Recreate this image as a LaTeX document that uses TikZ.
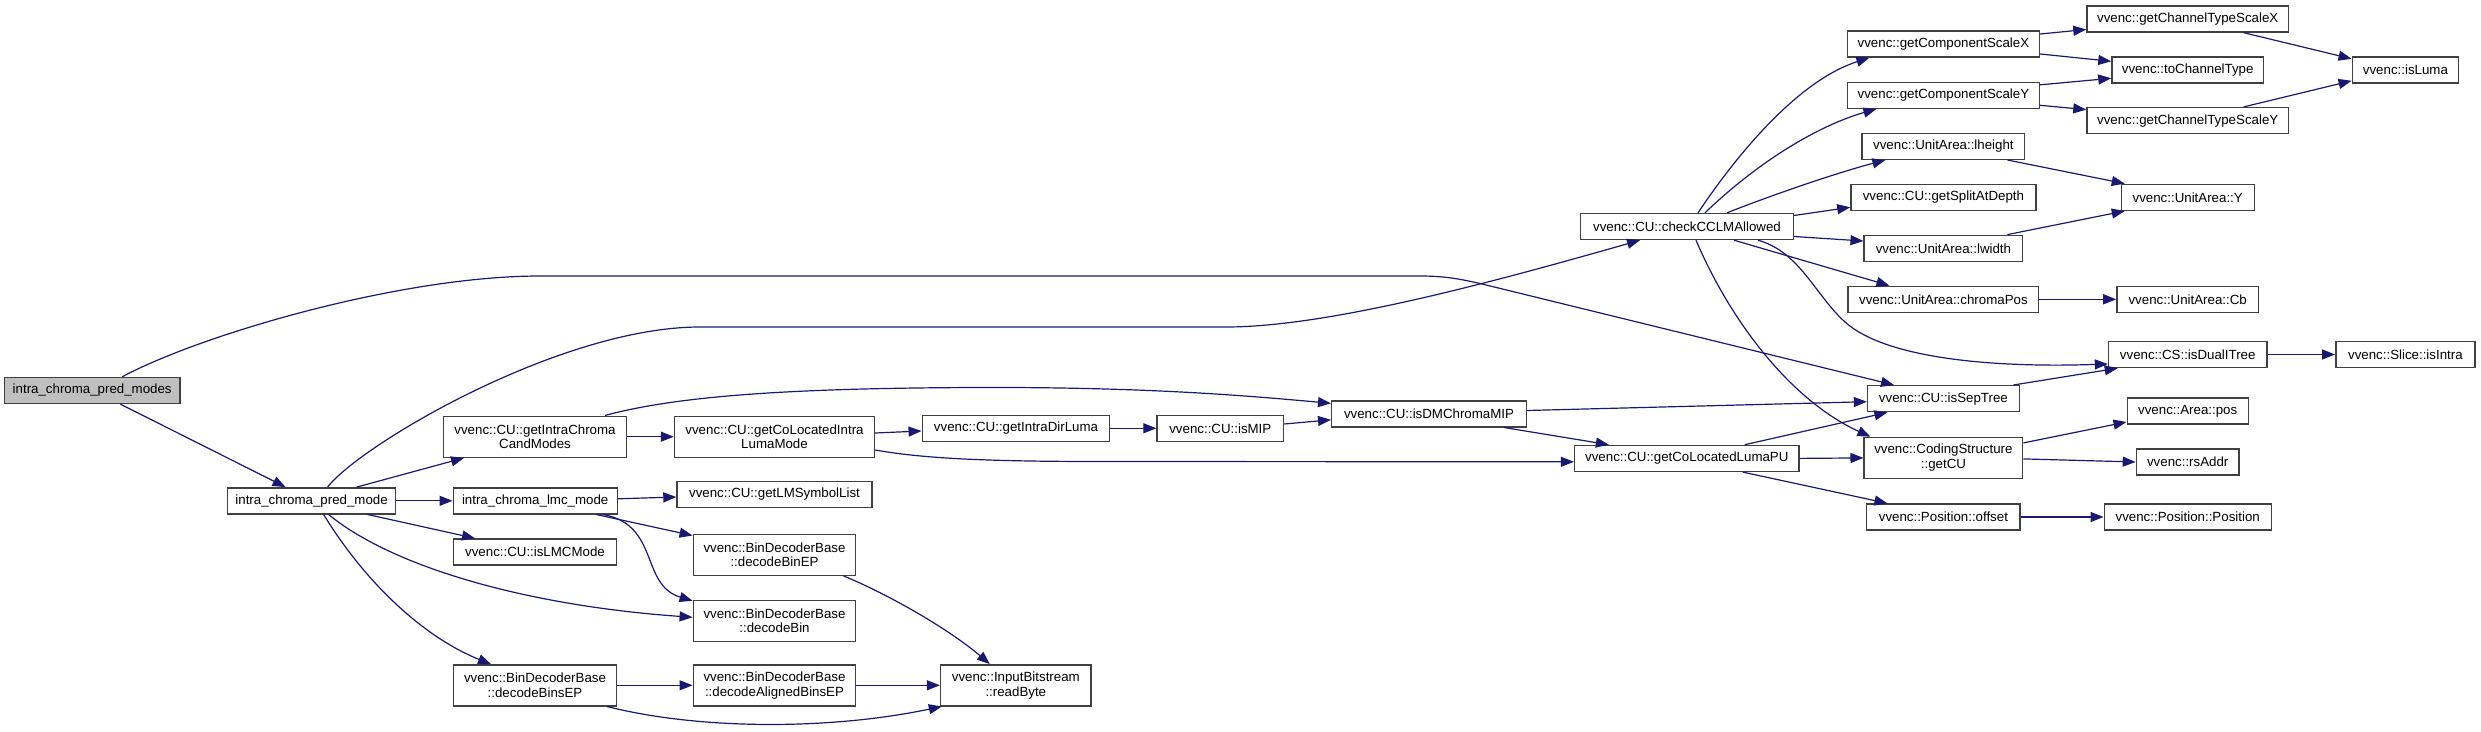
\documentclass[tikz,border=0pt]{standalone}
\usepackage{fontspec}
\setmainfont{Liberation Sans}
\usetikzlibrary{arrows.meta}
\definecolor{edgec}{HTML}{191970}
\definecolor{borderc}{HTML}{404040}
\definecolor{rootfill}{HTML}{BFBFBF}
\begin{document}
\begin{tikzpicture}[x=1pt,y=-1pt,
  fn/.style={draw=borderc, line width=1.4pt, fill=white, inner sep=0pt, align=center,
    font=\fontsize{13.3}{14.8}\selectfont, minimum height=26pt},
  fn2/.style={fn, minimum height=41pt},
  root/.style={fn, fill=rootfill},
  edge/.style={draw=edgec, line width=1.2pt, -{Triangle[length=13pt,width=10pt]}}]
\useasboundingbox (0,0) rectangle (2481,731);

\node[root, minimum width=175.5pt] (n0) at (92.2,390.5) {intra\_chroma\_pred\_modes};
\node[fn, minimum width=167.8pt] (n1) at (311.6,500.8) {intra\_chroma\_pred\_mode};
\node[fn2, minimum width=183pt] (n2) at (535,436.7) {vvenc::CU::getIntraChroma\\CandModes};
\node[fn, minimum width=164pt] (n3) at (535.2,500.8) {intra\_chroma\_lmc\_mode};
\node[fn, minimum width=163pt] (n4) at (535,552) {vvenc::CU::isLMCMode};
\node[fn2, minimum width=163pt] (n5) at (535,685.3) {vvenc::BinDecoderBase\\::decodeBinsEP};
\node[fn2, minimum width=200pt] (n6) at (774.5,436.7) {vvenc::CU::getCoLocatedIntra\\LumaMode};
\node[fn, minimum width=195pt] (n7) at (774.5,494.5) {vvenc::CU::getLMSymbolList};
\node[fn2, minimum width=162.5pt] (n8) at (774.5,554.7) {vvenc::BinDecoderBase\\::decodeBinEP};
\node[fn2, minimum width=162.5pt] (n9) at (774.5,620.8) {vvenc::BinDecoderBase\\::decodeBin};
\node[fn2, minimum width=162.5pt] (n10) at (774.5,685.3) {vvenc::BinDecoderBase\\::decodeAlignedBinsEP};
\node[fn, minimum width=187.5pt] (n11) at (1016,428.3) {vvenc::CU::getIntraDirLuma};
\node[fn2, minimum width=150.5pt] (n12) at (1015.8,685.3) {vvenc::InputBitstream\\::readByte};
\node[fn, minimum width=126.5pt] (n13) at (1220.3,428.3) {vvenc::CU::isMIP};
\node[fn, minimum width=194.6pt] (n14) at (1429,413.8) {vvenc::CU::isDMChromaMIP};
\node[fn, minimum width=212.5pt] (n15) at (1687,226.5) {vvenc::CU::checkCCLMAllowed};
\node[fn, minimum width=224.4pt] (n16) at (1686.8,458.4) {vvenc::CU::getCoLocatedLumaPU};
\node[fn, minimum width=192pt] (n17) at (1943.4,44) {vvenc::getComponentScaleX};
\node[fn, minimum width=192pt] (n18) at (1943.4,95.3) {vvenc::getComponentScaleY};
\node[fn, minimum width=162.6pt] (n19) at (1943.4,146.3) {vvenc::UnitArea::lheight};
\node[fn, minimum width=185pt] (n20) at (1943.4,197.3) {vvenc::CU::getSplitAtDepth};
\node[fn, minimum width=158.5pt] (n21) at (1943.4,248.3) {vvenc::UnitArea::lwidth};
\node[fn, minimum width=190.7pt] (n22) at (1943.4,299.3) {vvenc::UnitArea::chromaPos};
\node[fn, minimum width=151.8pt] (n23) at (1943.4,398.7) {vvenc::CU::isSepTree};
\node[fn2, minimum width=158.5pt] (n24) at (1943.4,457.9) {vvenc::CodingStructure\\::getCU};
\node[fn, minimum width=153.4pt] (n25) at (1943.4,517) {vvenc::Position::offset};
\node[fn, minimum width=201.5pt] (n26) at (2187.7,19) {vvenc::getChannelTypeScaleX};
\node[fn, minimum width=151.5pt] (n27) at (2187.7,69.8) {vvenc::toChannelType};
\node[fn, minimum width=201.5pt] (n28) at (2187.7,120.6) {vvenc::getChannelTypeScaleY};
\node[fn, minimum width=133pt] (n29) at (2187.7,197.3) {vvenc::UnitArea::Y};
\node[fn, minimum width=141.6pt] (n30) at (2187.7,299.3) {vvenc::UnitArea::Cb};
\node[fn, minimum width=158.4pt] (n31) at (2187.7,354.5) {vvenc::CS::isDualITree};
\node[fn, minimum width=121pt] (n32) at (2187.7,411) {vvenc::Area::pos};
\node[fn, minimum width=102.7pt] (n33) at (2187.7,462) {vvenc::rsAddr};
\node[fn, minimum width=167pt] (n34) at (2187.7,517) {vvenc::Position::Position};
\node[fn, minimum width=106.3pt] (n35) at (2405.4,69.8) {vvenc::isLuma};
\node[fn, minimum width=139.2pt] (n36) at (2405.4,354.5) {vvenc::Slice::isIntra};

% edges
\draw[edge] ([xshift=28.3pt]n0.south) -- ([xshift=-26pt]n1.north);
\draw[edge] ([xshift=30pt]n0.north) .. controls (200,335) and (400,276) .. (540,276) -- (1420,276) .. controls (1445,276) and (1460,279) .. (1480,283.5) -- ([xshift=-49.4pt]n23.north);
\draw[edge] ([xshift=16pt]n1.north) .. controls (360,445) and (560,327) .. (700,327) -- (1226,327) .. controls (1330,327) and (1500,280) .. ([xshift=-47pt]n15.south);
\draw[edge] ([xshift=45pt]n1.north) -- ([xshift=-71pt]n2.south);
\draw[edge] (n1.east) -- (n3.west);
\draw[edge] ([xshift=56pt]n1.south) -- ([xshift=-60pt]n4.north);
\draw[edge] ([xshift=17pt]n1.south) .. controls (390,565) and (520,605) .. ([yshift=3.5pt]n9.west);
\draw[edge] ([xshift=12pt]n1.south) .. controls (370,590) and (430,640) .. ([xshift=-44pt]n5.north);
\draw[edge] (n2.east) -- (n6.west);
\draw[edge] ([xshift=70pt]n2.north) .. controls (680,395) and (800,388) .. (980,387.5) .. controls (1150,387) and (1250,396) .. ([yshift=10.5pt]n14.west);
\draw[edge] ([yshift=3.7pt]n6.east) -- ([yshift=-2.7pt]n11.west);
\draw[edge] ([yshift=-13.3pt]n6.east) .. controls (920,458) and (980,461.5) .. (1100,461.5) -- ([yshift=-3.4pt]n16.west);
\draw[edge] (n11.east) -- (n13.west);
\draw[edge] ([yshift=4.3pt]n13.east) -- ([yshift=-6pt]n14.west);
\draw[edge] ([yshift=3.3pt]n14.east) -- ([yshift=-3pt]n23.west);
\draw[edge] ([xshift=75pt]n14.south) -- ([xshift=-78pt]n16.north);
\draw[edge] ([xshift=58pt]n16.north) -- ([xshift=-56pt]n23.south);
\draw[edge] (n16.east) -- (n24.west);
\draw[edge] ([xshift=56pt]n16.south) -- ([xshift=-56pt]n25.north);
\draw[edge] ([xshift=11pt]n15.north) .. controls (1740,150) and (1800,80) .. ([xshift=-74pt]n17.south);
\draw[edge] ([xshift=18pt]n15.north) .. controls (1760,160) and (1820,125) .. ([xshift=-67pt]n18.south);
\draw[edge] ([xshift=40pt]n15.north) .. controls (1780,192) and (1840,172) .. ([xshift=-58pt]n19.south);
\draw[edge] ([yshift=11pt]n15.east) -- ([yshift=-10pt]n20.west);
\draw[edge] ([yshift=-10pt]n15.east) -- ([yshift=7.3pt]n21.west);
\draw[edge] ([xshift=47pt]n15.south) -- ([xshift=-54pt]n22.north);
\draw[edge] ([xshift=71pt]n15.south) .. controls (1800,252) and (1815,295) .. (1845,322) .. controls (1885,358) and (1990,368) .. ([yshift=-9.5pt]n31.west);
\draw[edge] ([xshift=9pt]n15.south) .. controls (1730,320) and (1790,400) .. ([xshift=-73pt]n24.north);
\draw[edge] ([yshift=10pt]n17.east) -- ([yshift=-10.5pt]n26.west);
\draw[edge] ([yshift=-10pt]n17.east) -- ([yshift=8.5pt]n27.west);
\draw[edge] ([yshift=10.5pt]n18.east) -- ([yshift=-8.5pt]n27.west);
\draw[edge] ([yshift=-10pt]n18.east) -- ([yshift=11pt]n28.west);
\draw[edge] ([xshift=56pt]n26.south) -- ([yshift=11pt]n35.west);
\draw[edge] ([xshift=56pt]n28.north) -- ([yshift=-11pt]n35.west);
\draw[edge] ([xshift=64pt]n19.south) -- ([xshift=-63pt]n29.north);
\draw[edge] ([xshift=64pt]n21.north) -- ([xshift=-63pt]n29.south);
\draw[edge] (n22.east) -- (n30.west);
\draw[edge] (n31.east) -- (n36.west);
\draw[edge] ([xshift=70pt]n23.north) -- ([xshift=-70pt]n31.south);
\draw[edge] ([yshift=15pt]n24.east) -- ([yshift=-11pt]n32.west);
\draw[edge] ([yshift=-1pt]n24.east) -- (n33.west);
\draw[edge] (n25.east) -- (n34.west);
\draw[edge] ([yshift=2pt]n3.east) -- ([yshift=-2.5pt]n7.west);
\draw[edge] ([xshift=61pt]n3.south) -- ([yshift=19.2pt]n8.west);
\draw[edge] ([xshift=68pt]n3.south) .. controls (660,525) and (640,585) .. ([yshift=20pt]n9.west);
\draw[edge] ([xshift=69pt]n8.south) .. controls (890,595) and (950,630) .. ([xshift=-26pt]n12.north);
\draw[edge] (n5.east) -- (n10.west);
\draw[edge] (n10.east) -- (n12.west);
\draw[edge] ([xshift=72pt]n5.south) .. controls (700,730) and (830,730) .. ([xshift=-74pt]n12.south);
\end{tikzpicture}
\end{document}
